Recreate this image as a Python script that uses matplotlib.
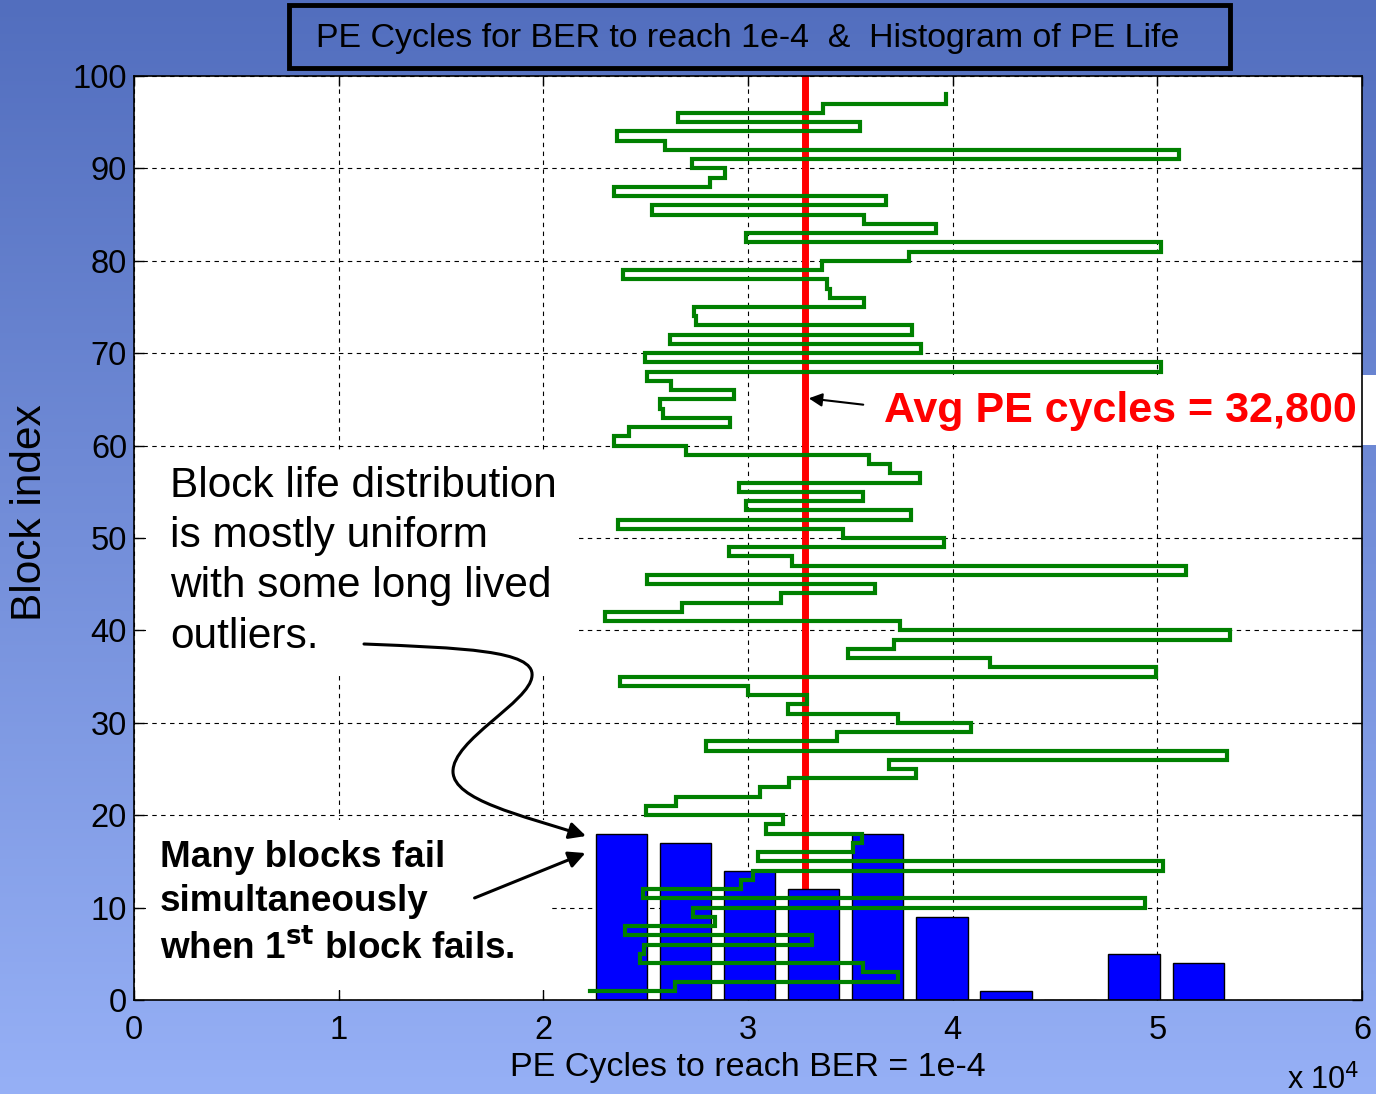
import numpy as np
import matplotlib
matplotlib.use('Agg')
import matplotlib.pyplot as plt
from matplotlib.patches import Rectangle, FancyArrowPatch
from matplotlib.path import Path

plt.rcParams['font.family'] = ['Liberation Sans', 'DejaVu Sans']

# PE cycles needed by each block to reach BER = 1e-4 (block index 1..98)
pe_cycles = [22260, 26420, 37340, 35640, 24700, 24930, 33140, 23980, 28370, 27310,
             49410, 24870, 29680, 30230, 50300, 30490, 35110, 35580, 30870, 31720,
             25020, 26500, 30590, 32020, 38190, 36890, 53390, 27940, 34350, 40880,
             37340, 31930, 32860, 30000, 23740, 49940, 41840, 34900, 37110, 53560,
             37450, 23020, 26780, 31590, 36220, 25080, 51420, 32140, 29050, 39570,
             34620, 23660, 37950, 29890, 35620, 29580, 38380, 36960, 35900, 26990,
             23450, 24170, 29110, 25860, 25720, 29320, 26250, 25080, 50170, 24970,
             38440, 26200, 38000, 27480, 27370, 35680, 33990, 33840, 23910, 33630,
             37850, 50170, 29890, 39180, 35680, 25290, 36750, 23450, 28160, 28900,
             27260, 51060, 25930, 23600, 35470, 26560, 33670, 39650]
block_index = list(range(1, len(pe_cycles) + 1))
avg_pe = 32800
n_bins = 10

x_ticks = [0, 10000, 20000, 30000, 40000, 50000, 60000]
x_tick_labels = ['0', '1', '2', '3', '4', '5', '6']
y_ticks = [0, 10, 20, 30, 40, 50, 60, 70, 80, 90, 100]

W, H = 1376, 1094


def fp(x, y):
    # reference pixel position -> figure fraction
    return (x / W, 1 - y / H)


fig = plt.figure(figsize=(W / 100, H / 100), dpi=100)

# background gradient
bg = fig.add_axes([0, 0, 1, 1], zorder=-10)
top = np.array([82, 110, 190]) / 255
bot = np.array([150, 176, 246]) / 255
t = np.linspace(0, 1, 256)[:, None]
grad = top[None, :] * (1 - t) + bot[None, :] * t
bg.imshow(grad[:, None, :], aspect='auto', extent=[0, 1, 0, 1])
bg.axis('off')

ax = fig.add_axes([134 / W, 1 - 1000 / H, (1362 - 134) / W, (1000 - 76) / H])
ax.set_facecolor('white')
ax.set_xlim(0, 60000)
ax.set_ylim(0, 100)
ax.set_xticks(x_ticks)
ax.set_xticklabels(x_tick_labels)
ax.set_yticks(y_ticks)
ax.tick_params(direction='in', length=7, width=1, labelsize=23.5, top=True, right=True)
ax.tick_params(axis='x', pad=11)
ax.tick_params(axis='y', pad=5)
ax.grid(True, linestyle=(0, (4, 4)), color='black', lw=0.8)
ax.set_axisbelow(True)
for s in ax.spines.values():
    s.set_linewidth(1.2)

ax.axvline(avg_pe, color='red', lw=5, zorder=1.8)
ax.hist(pe_cycles, bins=n_bins, rwidth=0.8, color='blue', edgecolor='black', lw=1, zorder=2)
ax.plot(pe_cycles, block_index, drawstyle='steps-post', color='green', lw=3,
        solid_joinstyle='miter', zorder=3)

ax.set_xlabel('PE Cycles to reach BER = 1e-4', fontsize=24.5, labelpad=4)
ax.set_ylabel('Block index', fontsize=30.5)
ax.yaxis.set_label_coords(-0.068, 0.528)
fig.text(*fp(1287, 1096), 'x 10$^4$', fontsize=22, ha='left', va='bottom')

# title box
fig.patches.append(Rectangle(fp(289, 68), (1230 - 289) / W, 63 / H, transform=fig.transFigure,
                             fill=False, edgecolor='black', lw=3.5))
fig.text(*fp(748, 38), 'PE Cycles for BER to reach 1e-4  &  Histogram of PE Life',
         fontsize=24.4, ha='center', va='center')

# white boxes behind annotations
for (x0, y0, x1, y1) in [(146, 452, 579, 672), (146, 820, 549, 990), (876, 375, 1376, 445)]:
    ax.add_patch(Rectangle(fp(x0, y1), (x1 - x0) / W, (y1 - y0) / H,
                           transform=fig.transFigure, facecolor='white',
                           edgecolor='none', zorder=1, clip_on=False))

ax.text(*fp(170, 466), 'Block life distribution\nis mostly uniform\nwith some long lived\noutliers.',
        transform=fig.transFigure, fontsize=30.5, ha='left', va='top', linespacing=1.33, zorder=5)
ax.text(*fp(160, 840), 'Many blocks fail\nsimultaneously\nwhen 1$^{\\mathbf{st}}$ block fails.',
        transform=fig.transFigure, fontsize=26.6, fontweight='bold', ha='left', va='top',
        linespacing=1.33, zorder=5)
ax.text(*fp(1120, 411), 'Avg PE cycles = 32,800', transform=fig.transFigure, fontsize=31,
        fontweight='bold', color='red', ha='center', va='center', zorder=5)

# arrows
ax.annotate('', xy=fp(806, 398), xytext=fp(866, 405), xycoords='figure fraction',
            textcoords='figure fraction',
            arrowprops=dict(arrowstyle='-|>', color='black', lw=1.5, mutation_scale=20))
ax.annotate('', xy=fp(588, 852), xytext=fp(472, 899), xycoords='figure fraction',
            textcoords='figure fraction',
            arrowprops=dict(arrowstyle='-|>', color='black', lw=2.2, mutation_scale=25))

verts = [(364, 644), (460, 648), (535, 650), (532, 676),
         (530, 702), (452, 740), (453, 772),
         (454, 800), (520, 815), (586, 836)]
codes = [Path.MOVETO] + [Path.CURVE4] * 9
curve = Path([fp(*v) for v in verts], codes)
ax.add_patch(FancyArrowPatch(path=curve, transform=fig.transFigure, arrowstyle='-|>',
                             mutation_scale=25, color='black', lw=2.2, zorder=6, clip_on=False))

fig.savefig('out.png', dpi=100)
